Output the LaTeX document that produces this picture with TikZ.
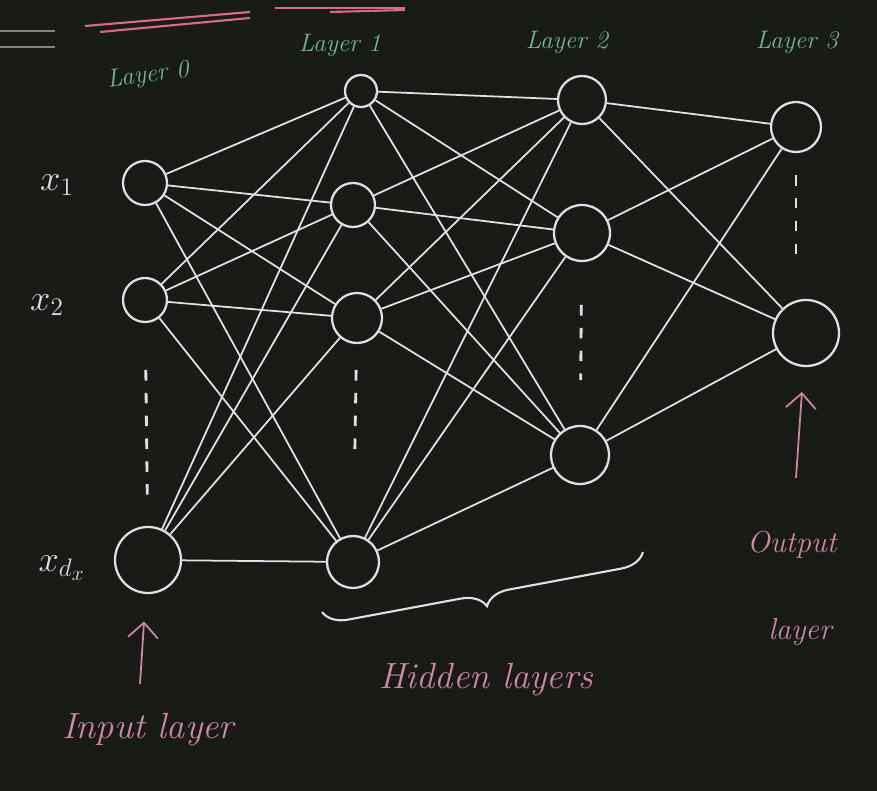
\documentclass[tikz,border=0pt]{standalone}
\usepackage{amsmath}
\usepackage{tikz}
\usetikzlibrary{arrows.meta,positioning,decorations.pathreplacing}
\definecolor{board}{RGB}{24,26,22}
\definecolor{chalk}{RGB}{222,222,232}
\definecolor{layergreen}{RGB}{112,184,142}
\definecolor{chalkpink}{RGB}{205,135,165}
\definecolor{titlepink}{RGB}{215,105,140}
\tikzset{
    neuron/.style={circle, draw=chalk, line width=1.3pt, inner sep=0pt},
    link/.style={draw=chalk!90, line width=1pt},
    tag/.style={text=layergreen, font=\Large\itshape},
    note/.style={text=chalkpink, font=\huge\itshape},
    xlabel/.style={text=chalk, font=\huge},
    pointer/.style={draw=chalkpink, line width=1pt, -{Straight Barb[length=3mm]}},
    vdots/.style={draw=chalk, line width=1.6pt, dash pattern=on 6pt off 7pt}
}

\begin{document}
\begin{tikzpicture}[x=0.02cm, y=-0.02cm]

% board
\fill[board] (0,0) rectangle (877,791);
\useasboundingbox (0,0) rectangle (877,791);

% title strokes, cut off at the top
\draw[titlepink, line width=1.2pt] (85,26) -- (250,12);
\draw[titlepink, line width=1.2pt] (100,32) -- (250,18);
\draw[titlepink, line width=1.2pt] (275,8) -- (405,8);
\draw[titlepink, line width=1.2pt] (330,12) -- (405,10);
\draw[gray, line width=1.2pt] (0,31) -- (55,31);
\draw[gray, line width=1.2pt] (0,47) -- (55,47);

% Layer 0
\node[neuron, minimum size=44*0.02cm] (i1) at (145,183) {};
\node[neuron, minimum size=44*0.02cm] (i2) at (145,300) {};
\node[neuron, minimum size=66*0.02cm] (i3) at (148,560) {};

% Layer 1
\node[neuron, minimum size=32*0.02cm] (a1) at (361,91)  {};
\node[neuron, minimum size=44*0.02cm] (a2) at (353,205) {};
\node[neuron, minimum size=50*0.02cm] (a3) at (357,318) {};
\node[neuron, minimum size=52*0.02cm] (a4) at (353,562) {};

% Layer 2
\node[neuron, minimum size=48*0.02cm] (b1) at (582,100) {};
\node[neuron, minimum size=56*0.02cm] (b2) at (582,233) {};
\node[neuron, minimum size=58*0.02cm] (b3) at (580,455) {};

% Layer 3
\node[neuron, minimum size=50*0.02cm] (c1) at (796,127) {};
\node[neuron, minimum size=66*0.02cm] (c2) at (806,333) {};

% links
\foreach \s in {i1,i2,i3}
  \foreach \t in {a1,a2,a3,a4}
    \draw[link] (\s) -- (\t);
\foreach \s in {a1,a2,a3,a4}
  \foreach \t in {b1,b2,b3}
    \draw[link] (\s) -- (\t);
\foreach \s in {b1,b2,b3}
  \foreach \t in {c1,c2}
    \draw[link] (\s) -- (\t);

% vertical dots
\draw[vdots, shorten <=1.4cm, shorten >=1.2cm] (i2.center) -- (i3.center);
\draw[vdots, shorten <=1.04cm, shorten >=2.14cm] (a3.center) -- (a4.center);
\draw[vdots, shorten <=1.44cm, shorten >=1.5cm] (b2.center) -- (b3.center);
\draw[vdots, shorten <=0.96cm, shorten >=1.36cm] (c1.center) -- (c1.center |- c2.center);

% layer titles
\node[tag, rotate=8] (t0) at (148,76) {Layer 0};
\node[tag] (t1) at (340,45) {Layer 1};
\node[tag] (t2) at (567,42) {Layer 2};
\node[tag] (t3) at (797,42) {Layer 3};

% inputs
\node[xlabel] (x1) at (57,185) {$x_1$};
\node[xlabel] (x2) at (47,305) {$x_2$};
\node[xlabel] (xd) at (62,568) {$x_{d_x}$};

% brace under the hidden layers
\coordinate (hl) at (322,612);
\coordinate (hr) at (643,552);
\draw[chalk, line width=1.2pt, decorate, decoration={brace, amplitude=14pt, mirror}] (hl) -- (hr);

% bottom notes
\coordinate (inarrow) at (140,684);
\draw[pointer, shorten >=0.55cm] (inarrow) -- (i3);
\node[note] (inp) at (148,730) {Input layer};
\node[note] (hid) at (486,680) {Hidden layers};
\node[note, font=\LARGE\itshape] (outp) at (792,545) {Output};
\node[note, font=\LARGE\itshape] (lay) at (800,632) {layer};
\coordinate (outarrow) at (796,478);
\draw[pointer, shorten >=0.5cm] (outarrow) -- (c2);

\end{tikzpicture}
\end{document}
